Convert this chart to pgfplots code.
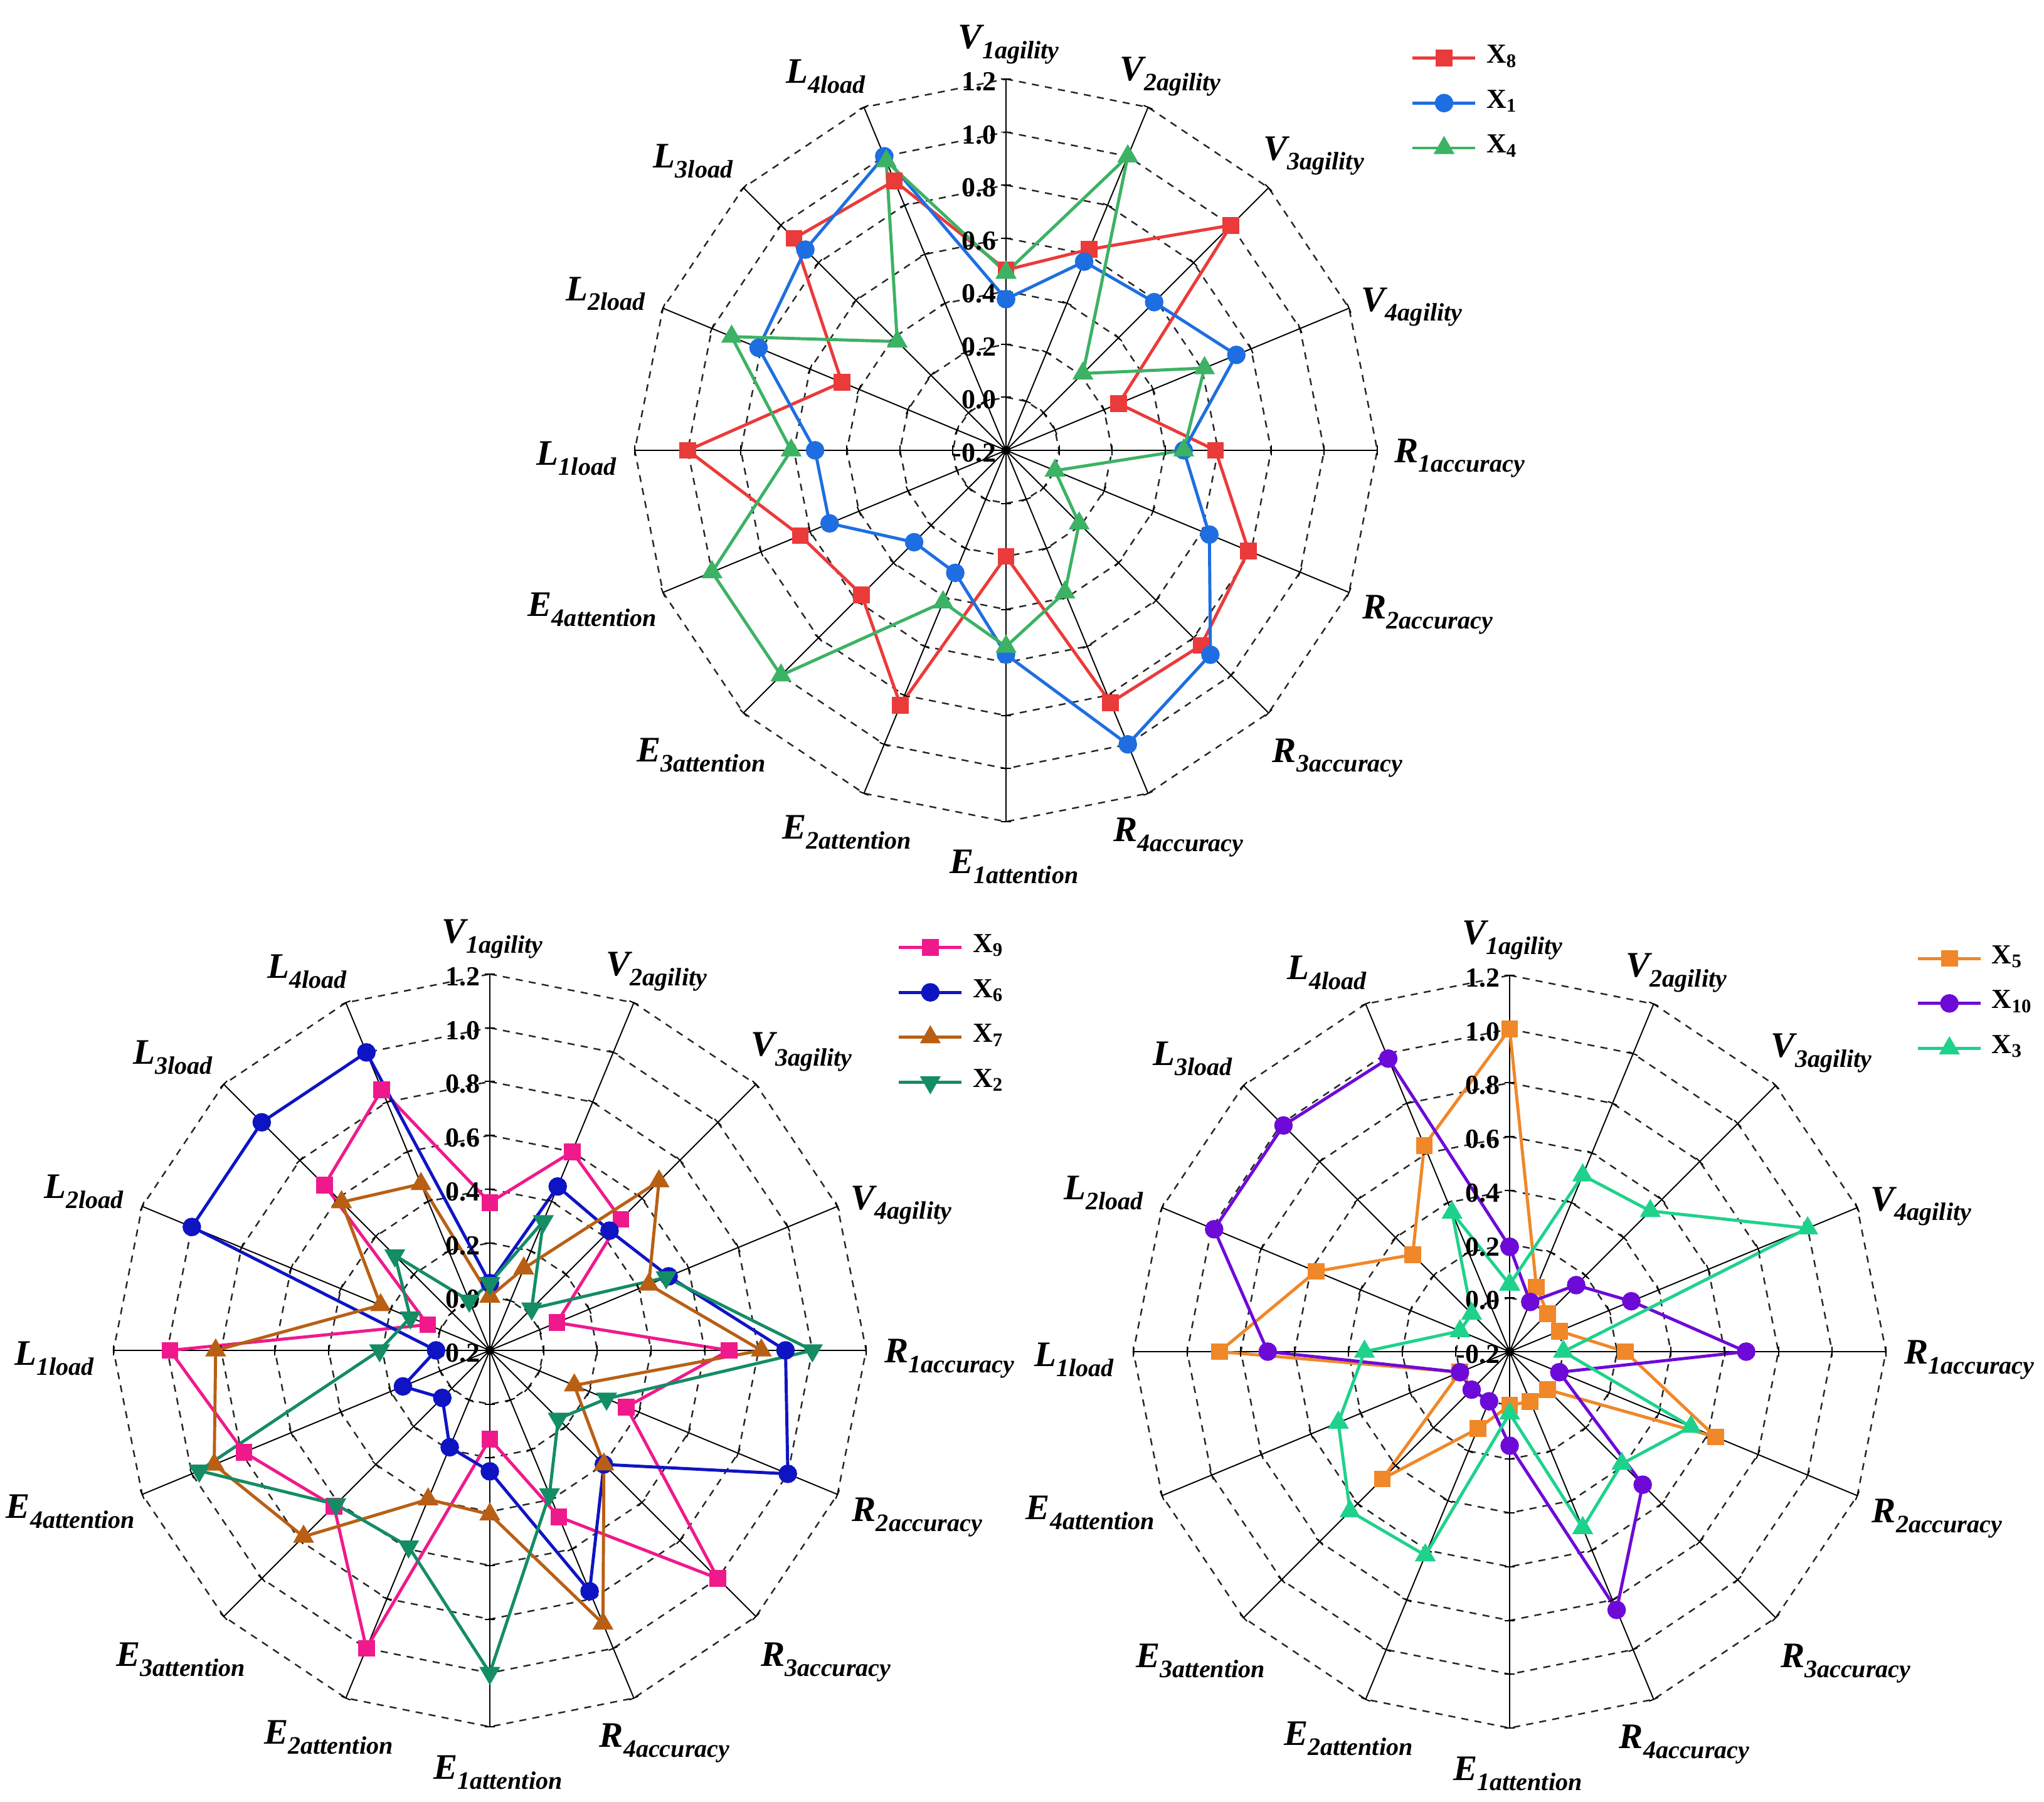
\documentclass[border=0pt]{standalone}
\usepackage{pgfplots}
\pgfplotsset{compat=1.18}
\usepackage{pgfplotstable}
\usepackage{fontspec}
\setmainfont{Liberation Serif}

\definecolor{cX8}{RGB}{235,58,58}
\definecolor{cX1}{RGB}{30,110,225}
\definecolor{cX4}{RGB}{60,178,100}
\definecolor{cX9}{RGB}{240,25,140}
\definecolor{cX6}{RGB}{15,20,195}
\definecolor{cX7}{RGB}{185,95,20}
\definecolor{cX2}{RGB}{20,140,100}
\definecolor{cX5}{RGB}{240,135,40}
\definecolor{cX10}{RGB}{110,10,215}
\definecolor{cX3}{RGB}{30,210,140}

\pgfplotstableread{
a X8 X1 X4
90 0.48 0.37 0.47
67.5 0.62 0.57 1.00
45 1.00 0.59 0.21
22.5 0.26 0.74 0.61
0 0.59 0.47 0.47
-22.5 0.79 0.63 0.00
-45 0.84 0.89 0.19
-67.5 0.83 1.00 0.38
-90 0.20 0.57 0.54
-112.5 0.84 0.30 0.42
-135 0.57 0.29 1.00
-157.5 0.64 0.52 1.00
-180 1.00 0.52 0.61
-202.5 0.47 0.81 0.92
-225 0.93 0.87 0.38
-247.5 0.90 1.00 0.98
-270 0.48 0.37 0.47
}\topdata

\pgfplotstableread{
a X9 X6 X7 X2
90 0.35 0.05 0.00 0.05
67.5 0.60 0.46 0.13 0.32
45 0.49 0.43 0.69 0.02
22.5 0.07 0.52 0.44 0.51
0 0.69 0.90 0.81 1.00
-22.5 0.35 1.00 0.14 0.27
-45 1.00 0.40 0.40 0.16
-67.5 0.47 0.77 0.90 0.38
-90 0.13 0.25 0.41 1.00
-112.5 1.00 0.19 0.40 0.59
-135 0.62 0.05 0.78 0.61
-157.5 0.79 0.15 0.91 0.97
-180 0.99 0.00 0.82 0.21
-202.5 0.05 1.00 0.24 0.12
-225 0.67 1.00 0.58 0.30
-247.5 0.85 1.00 0.47 0.00
-270 0.35 0.05 0.00 0.05
}\bldata

\pgfplotstableread{
a X5 X10 X3
90 1.00 0.19 0.05
67.5 0.06 0.00 0.51
45 0.00 0.15 0.54
22.5 0.00 0.29 1.00
0 0.23 0.68 0.00
-22.5 0.63 0.00 0.53
-45 0.00 0.50 0.39
-67.5 0.00 0.84 0.51
-90 0.00 0.15 0.03
-112.5 0.11 0.00 0.62
-135 0.47 0.00 0.64
-157.5 0.00 0.00 0.49
-180 0.88 0.70 0.34
-202.5 0.58 0.99 0.00
-225 0.31 0.99 0.00
-247.5 0.63 0.98 0.36
-270 1.00 0.19 0.05
}\brdata

\pgfplotstableread{
a b
90 0
67.5 0
45 0
22.5 0
0 0
-22.5 0
-45 0
-67.5 0
-90 0
-112.5 0
-135 0
-157.5 0
-180 0
-202.5 0
-225 0
-247.5 0
-270 0
}\angtab

\pgfplotstableread{
r b
0 0
0.2 0
0.4 0
0.6 0
0.8 0
1.0 0
1.2 0
1.4 0
}\rtab

\newcommand{\alab}[2]{{\fontsize{16.3pt}{18pt}\selectfont\bfseries\itshape #1\raisebox{-4.5pt}{\fontsize{11.4pt}{12pt}\selectfont #2}}}

\pgfplotsset{
  legend image code/.code={\draw[mark repeat=2,mark phase=2,#1] plot coordinates {(0cm,0cm) (0.5cm,0cm) (1.0cm,0cm)};},
  radar/.style={
    hide axis, clip=false,
    xmin=-1.4, xmax=1.4, ymin=-1.4, ymax=1.4,
    anchor=center,
    legend cell align=left,
    legend style={draw=none, fill=none, anchor=north west, inner sep=0pt,
      row sep=6pt,
      font=\fontsize{12.5pt}{14pt}\selectfont\bfseries,
      nodes={text height=2.8mm, text depth=1.2mm, inner sep=1.5pt},
      /tikz/every odd column/.append style={column sep=0.1cm}},
  },
  ser/.style={line width=1.4pt, mark options={solid}},
  msq/.style={mark=square*, mark size=3.1pt},
  mci/.style={mark=*, mark size=3.5pt},
  mtu/.style={mark=triangle*, mark size=4.1pt},
  mtd/.style={mark=triangle*, mark size=4.1pt, mark options={rotate=180}},
}

\newcommand{\series}[3]{%
  \addplot[ser, #2] table[x expr={(\thisrow{#1}+0.2)*cos(\thisrow{a})}, y expr={(\thisrow{#1}+0.2)*sin(\thisrow{a})}]{#3};%
}

\newcommand{\radarframe}{%
  \pgfplotsinvokeforeach{0.2,0.4,0.6,0.8,1.0,1.2,1.4}{%
    \addplot[forget plot, black!85, line width=0.7pt, dash pattern=on 3.2pt off 2.8pt] table[x expr={##1*cos(\thisrow{a})}, y expr={##1*sin(\thisrow{a})}]{\angtab};
  }%
  \pgfplotsinvokeforeach{90,67.5,45,22.5,0,-22.5,-45,-67.5,-90,-112.5,-135,-157.5,180,157.5,135,112.5}{%
    \addplot[forget plot, black, line width=0.55pt, mark=|, mark size=2.2pt, mark options={rotate=##1}] table[x expr={\thisrow{r}*cos(##1)}, y expr={\thisrow{r}*sin(##1)}]{\rtab};
  }%
}

\tikzset{ticklab/.style={anchor=east, inner sep=0pt, font=\fontsize{12.5pt}{14pt}\selectfont\bfseries}}

\newcommand{\radarlabels}{%
  \node at (axis cs:0.01,1.53) {\alab{V}{1agility}};
  \node at (axis cs:0.62,1.41) {\alab{V}{2agility}};
  \node at (axis cs:1.16,1.11) {\alab{V}{3agility}};
  \node at (axis cs:1.53,0.54) {\alab{V}{4agility}};
  \node at (axis cs:1.71,-0.03) {\alab{R}{1accuracy}};
  \node at (axis cs:1.59,-0.62) {\alab{R}{2accuracy}};
  \node at (axis cs:1.25,-1.16) {\alab{R}{3accuracy}};
  \node at (axis cs:0.65,-1.46) {\alab{R}{4accuracy}};
  \node at (axis cs:0.03,-1.57) {\alab{E}{1attention}};
  \node at (axis cs:-0.60,-1.44) {\alab{E}{2attention}};
  \node at (axis cs:-1.15,-1.15) {\alab{E}{3attention}};
  \node at (axis cs:-1.56,-0.60) {\alab{E}{4attention}};
  \node at (axis cs:-1.62,-0.03) {\alab{L}{1load}};
  \node at (axis cs:-1.51,0.59) {\alab{L}{2load}};
  \node at (axis cs:-1.18,1.09) {\alab{L}{3load}};
  \node at (axis cs:-0.68,1.41) {\alab{L}{4load}};
  \node[ticklab] at (axis cs:-0.035,1.39) {1.2};
  \node[ticklab] at (axis cs:-0.035,1.19) {1.0};
  \node[ticklab] at (axis cs:-0.035,0.99) {0.8};
  \node[ticklab] at (axis cs:-0.035,0.79) {0.6};
  \node[ticklab] at (axis cs:-0.035,0.59) {0.4};
  \node[ticklab] at (axis cs:-0.035,0.39) {0.2};
  \node[ticklab] at (axis cs:-0.035,0.19) {0.0};
  \node[ticklab] at (axis cs:-0.035,-0.01) {-0.2};
}

\begin{document}
\begin{tikzpicture}
\path[use as bounding box] (0,0) rectangle (32.59,28.73);

% top chart
\begin{axis}[radar, x=4.2286cm, y=4.2286cm, at={(16.04cm,21.55cm)},
  legend style={at={(1.045,1.05)}}]
\radarframe
\series{X8}{cX8, msq}{\topdata}
\addlegendentry{X\textsubscript{8}}
\series{X1}{cX1, mci}{\topdata}
\addlegendentry{X\textsubscript{1}}
\series{X4}{cX4, mtu}{\topdata}
\addlegendentry{X\textsubscript{4}}
\radarlabels
\end{axis}

% bottom left chart
\begin{axis}[radar, x=4.2857cm, y=4.2857cm, at={(7.81cm,7.20cm)},
  legend style={at={(1.041,1.057)}}]
\radarframe
\series{X9}{cX9, msq}{\bldata}
\addlegendentry{X\textsubscript{9}}
\series{X6}{cX6, mci}{\bldata}
\addlegendentry{X\textsubscript{6}}
\series{X7}{cX7, mtu}{\bldata}
\addlegendentry{X\textsubscript{7}}
\series{X2}{cX2, mtd}{\bldata}
\addlegendentry{X\textsubscript{2}}
\radarlabels
\end{axis}

% bottom right chart
\begin{axis}[radar, x=4.2857cm, y=4.2857cm, at={(24.07cm,7.18cm)},
  legend style={at={(1.040,1.044)}}]
\radarframe
\series{X5}{cX5, msq}{\brdata}
\addlegendentry{X\textsubscript{5}}
\series{X10}{cX10, mci}{\brdata}
\addlegendentry{X\textsubscript{10}}
\series{X3}{cX3, mtu}{\brdata}
\addlegendentry{X\textsubscript{3}}
\radarlabels
\end{axis}
\end{tikzpicture}
\end{document}
